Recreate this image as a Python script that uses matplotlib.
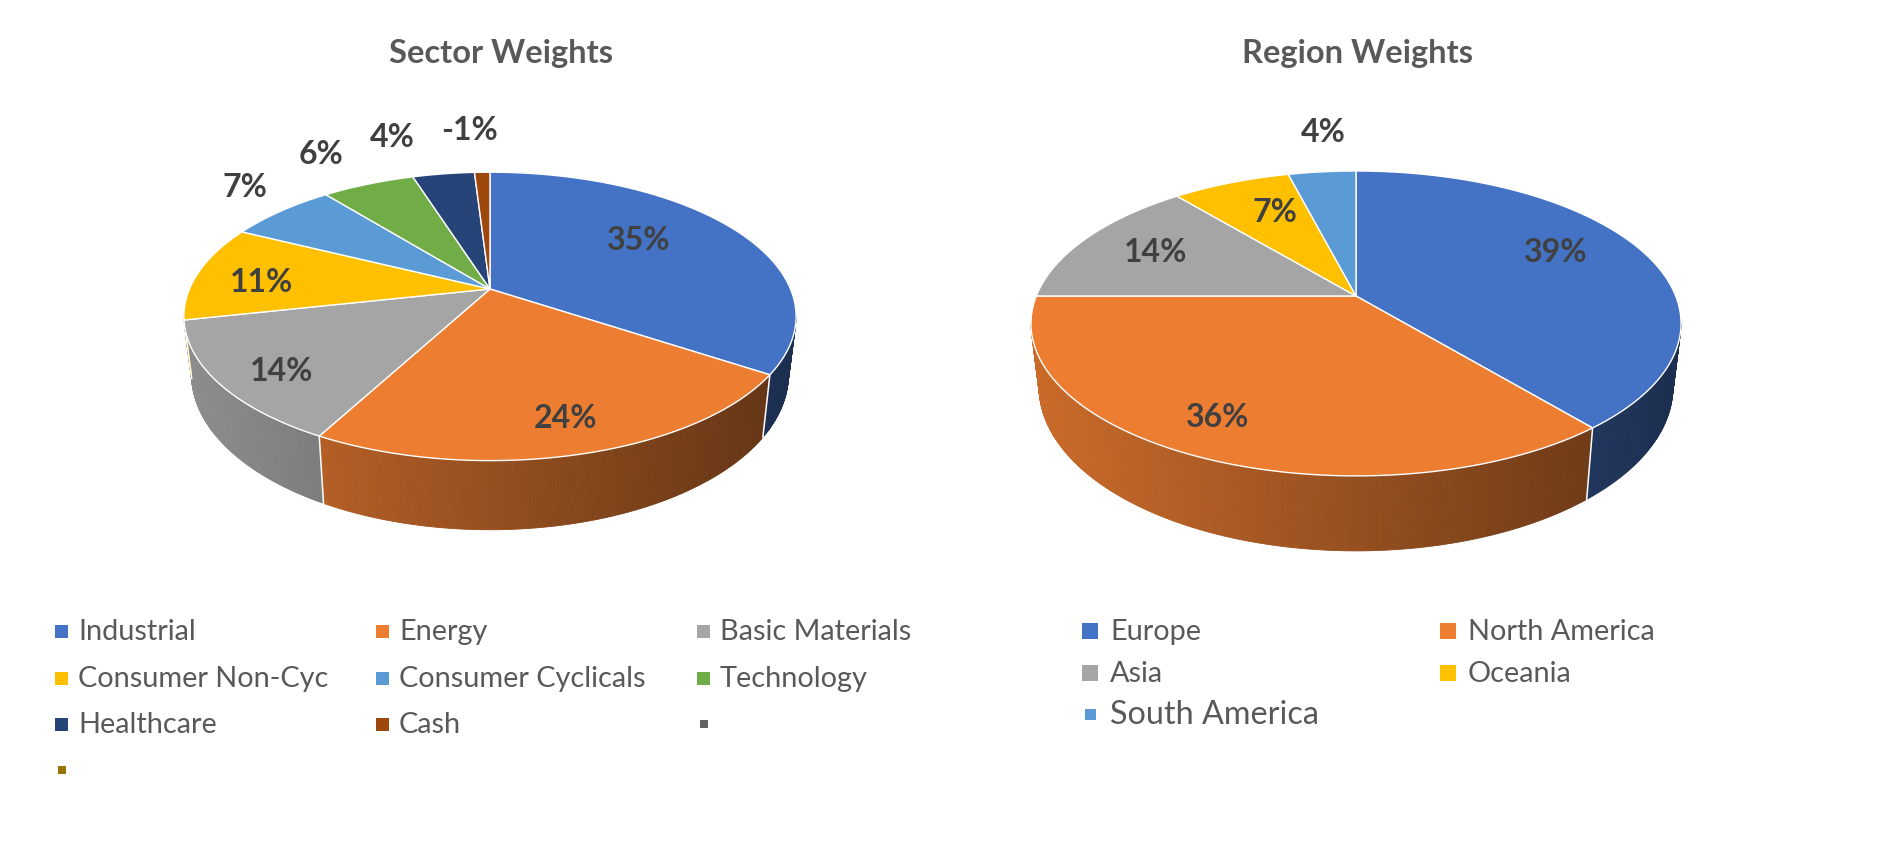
import numpy as np
import matplotlib
matplotlib.use("Agg")
import matplotlib.pyplot as plt
from matplotlib.patches import Polygon, Rectangle
from matplotlib.colors import to_rgb

# ---------------- data ----------------
sector_labels = ["Industrial", "Energy", "Basic Materials", "Consumer Non-Cyc",
                 "Consumer Cyclicals", "Technology", "Healthcare", "Cash", "", ""]
sector_values = [35, 24, 14, 11, 7, 6, 4, -1, 0, 0]
sector_colors = ["#4472C4", "#ED7D31", "#A5A5A5", "#FFC000", "#5B9BD5",
                 "#70AD47", "#264478", "#9E480E", "#636363", "#997300"]

region_labels = ["Europe", "North America", "Asia", "Oceania", "South America"]
region_values = [39, 36, 14, 7, 4]
region_colors = ["#4472C4", "#ED7D31", "#A5A5A5", "#FFC000", "#5B9BD5"]

# ---------------- style ----------------
FONT = ["Lato", "DejaVu Sans"]
plt.rcParams["font.family"] = FONT
TXT = "#595959"
LBL = "#404040"

sector_geom = dict(cx=490, cy=289, A=300.5, B=139, k=0.19, D=56, shrink=0.975)
region_geom = dict(cx=1356, cy=296, A=319.7, B=147.5, k=0.18, D=61.5, shrink=0.975)
# label placement (radial factor, angular nudge in degrees) per slice
sector_lab_pos = [(0.65, -7), (0.82, -1), (0.82, -3.5), (0.77, -3.4),
                  (1.27, 3), (1.37, -2), (1.44, -6), (1.46, -1.7)]
region_lab_pos = [(0.73, -5.7), (0.81, 2.6), (0.73, 0), (0.69, 2.8), (1.39, 2)]

fig = plt.figure(figsize=(18.85, 8.64), dpi=100)
ax = fig.add_axes([0, 0, 1, 1])
ax.set_xlim(0, 1885)
ax.set_ylim(864, 0)
ax.axis("off")


def proj(g, t, r=1.0, h=0.0):
    w = 1 + g["k"] * r * np.cos(t)
    x = g["cx"] + g["A"] * r * np.sin(t) / w
    y = g["cy"] - g["B"] * r * np.cos(t) / w + h * g["D"] / w
    if h:
        x = g["cx"] + g["shrink"] * (x - g["cx"])
    return x, y


def shade(color, u):
    f = 0.63 - 0.22 * u
    c = np.array(to_rgb(color)) * f
    return np.clip(c, 0, 1)


def draw_pie(g, values, colors, lab_pos):
    sizes = np.abs(np.array(values, dtype=float))
    total = sizes.sum()
    ang = np.concatenate([[0], np.cumsum(sizes) / total * 2 * np.pi])
    tv0 = np.arccos(-g["k"])
    tv1 = 2 * np.pi - tv0
    # sides
    for i, s in enumerate(sizes):
        if s <= 0:
            continue
        a, b = max(ang[i], tv0), min(ang[i + 1], tv1)
        if b <= a:
            continue
        n = max(2, int((b - a) / 0.008))
        ts = np.linspace(a, b, n + 1)
        for j in range(n):
            ta, tb = ts[j], ts[j + 1]
            xa, ya = proj(g, ta)
            xb, yb = proj(g, tb)
            xc, yc = proj(g, tb, h=1)
            xd, yd = proj(g, ta, h=1)
            u = ((xa + xb) / 2 - g["cx"]) / g["A"]
            col = shade(colors[i], u)
            ax.add_patch(Polygon([(xa, ya), (xb, yb), (xc, yc), (xd, yd)],
                                 closed=True, facecolor=col, edgecolor=col,
                                 lw=0.6, zorder=1))
    # white separators on side
    for t in ang[1:-1]:
        if tv0 < t < tv1:
            x0, y0 = proj(g, t)
            x1, y1 = proj(g, t, h=1)
            ax.plot([x0, x1], [y0, y1], color="white", lw=1.1, zorder=2)
    # top face
    for i, s in enumerate(sizes):
        if s <= 0:
            continue
        ts = np.linspace(ang[i], ang[i + 1], max(3, int((ang[i + 1] - ang[i]) / 0.01)))
        xs, ys = proj(g, ts)
        pts = [(g["cx"], g["cy"])] + list(zip(xs, ys))
        ax.add_patch(Polygon(pts, closed=True, facecolor=colors[i],
                             edgecolor="white", lw=1.0, joinstyle="round", zorder=3))
    # data labels
    k = 0
    for i, s in enumerate(sizes):
        if s <= 0:
            continue
        r, dt = lab_pos[k]
        k += 1
        tm = (ang[i] + ang[i + 1]) / 2 + np.deg2rad(dt)
        x, y = proj(g, tm, r=r)
        ax.text(x, y, f"{values[i]:.0f}%", ha="center", va="center",
                fontsize=23, fontweight="bold", color=LBL, zorder=5)


draw_pie(sector_geom, sector_values, sector_colors, sector_lab_pos)
draw_pie(region_geom, region_values, region_colors, region_lab_pos)

# titles
ax.text(501, 54, "Sector Weights", ha="center", va="center", fontsize=23.5,
        fontweight="bold", color=TXT)
ax.text(1357, 54, "Region Weights", ha="center", va="center", fontsize=23.5,
        fontweight="bold", color=TXT)

# legends
sec_cols_x = [55, 376, 697]
sec_rows_y = [632, 679, 725, 771]
for idx, (lab, col) in enumerate(zip(sector_labels, sector_colors)):
    r, c = divmod(idx, 3)
    x, y = sec_cols_x[c], sec_rows_y[r]
    sz = 13 if lab else 8
    ax.add_patch(Rectangle((x + (13 - sz) / 2, y - sz / 2 - 1), sz, sz, facecolor=col,
                           edgecolor="none", zorder=4))
    if lab:
        ax.text(x + 23, y, lab, ha="left", va="center", fontsize=20.8, color=TXT)

reg_cols_x = [1082, 1440]
reg_rows_y = [632, 674, 715]
for idx, (lab, col) in enumerate(zip(region_labels, region_colors)):
    r, c = divmod(idx, 2)
    x, y = reg_cols_x[c], reg_rows_y[r]
    big = idx == len(region_labels) - 1
    sz = 11 if big else 16
    ax.add_patch(Rectangle((x + (16 - sz) / 2, y - sz / 2 - 1), sz, sz, facecolor=col,
                           edgecolor="none", zorder=4))
    ax.text(x + 28, y, lab, ha="left", va="center",
            fontsize=23.3 if big else 20.8, color=TXT)

fig.savefig("out.png", dpi=100, facecolor="white")
